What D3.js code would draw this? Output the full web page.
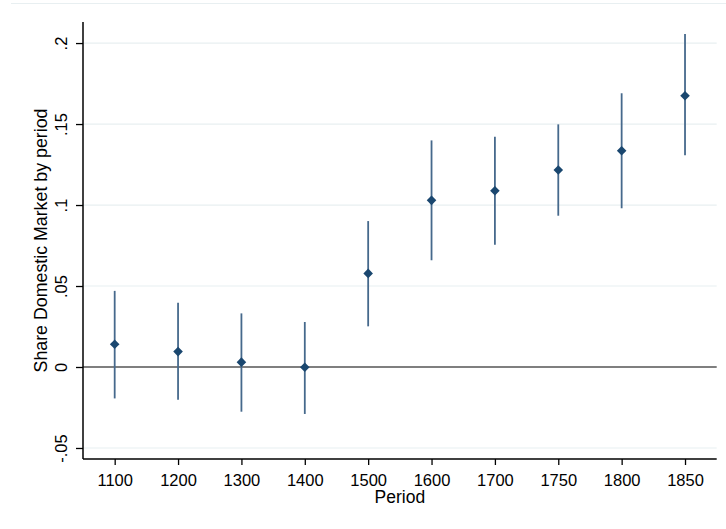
<!DOCTYPE html>
<html>
<head>
<meta charset="utf-8">
<script src="https://cdn.jsdelivr.net/npm/d3@7"></script>
<style>
  body { margin: 0; background: #fff; }
  svg { display: block; font-family: "Liberation Sans", Arial, sans-serif; }
</style>
</head>
<body>
<div id="chart"></div>
<script>
// coefficient by period, with 95% CI
var periods = ["1100","1200","1300","1400","1500","1600","1700","1750","1800","1850"];
var coef    = [0.014, 0.0095, 0.003, -0.0002, 0.0578, 0.1029, 0.1088, 0.1216, 0.1335, 0.1675];
var ciLow   = [-0.0194, -0.0202, -0.0276, -0.029, 0.0251, 0.0659, 0.0755, 0.0934, 0.098, 0.1307];
var ciHigh  = [0.047, 0.0397, 0.0331, 0.0278, 0.0901, 0.1399, 0.1422, 0.1498, 0.169, 0.2056];
var yTicks  = [-0.05, 0, 0.05, 0.1, 0.15, 0.2];
var yTickLabels = ["-.05", "0", ".05", ".1", ".15", ".2"];

var width = 726, height = 529;
var plotL = 83, plotR = 716.7, plotT = 22, plotB = 459;

var svg = d3.select("#chart").append("svg")
    .attr("width", width)
    .attr("height", height);

var x = d3.scalePoint().domain(periods).range([plotL, plotR]).padding(0.5);
var y = d3.scaleLinear().domain([-0.0568, 0.213]).range([plotB, plotT]);

// faint frame line at top (graph region border, cropped)
svg.append("line")
    .attr("x1", 11).attr("x2", width)
    .attr("y1", 3.5).attr("y2", 3.5)
    .attr("stroke", "#e8eff1").attr("stroke-width", 1.2);

// gridlines
svg.append("g").selectAll("line")
    .data(yTicks.filter(function(d){ return d !== 0; }))
    .enter().append("line")
    .attr("x1", plotL).attr("x2", plotR)
    .attr("y1", function(d){ return y(d); })
    .attr("y2", function(d){ return y(d); })
    .attr("stroke", "#e8eff1").attr("stroke-width", 1.2);

// zero reference line
svg.append("line")
    .attr("x1", plotL).attr("x2", plotR)
    .attr("y1", y(0)).attr("y2", y(0))
    .attr("stroke", "#555").attr("stroke-width", 1.6);

// y axis
var yAxis = svg.append("g")
    .attr("transform", "translate(" + plotL + ",0)")
    .call(d3.axisLeft(y).tickValues(yTicks).tickSize(7).tickFormat(function(d, i){ return yTickLabels[i]; }));
yAxis.select(".domain").attr("stroke", "#000").attr("stroke-width", 1.5).attr("d", "M0," + plotT + "V" + plotB);
yAxis.selectAll(".tick line").attr("stroke", "#000").attr("stroke-width", 1.3);
yAxis.selectAll(".tick text")
    .attr("x", null).attr("dy", null)
    .attr("text-anchor", "middle")
    .attr("transform", "translate(-16,0) rotate(-90)")
    .attr("font-size", 16.5)
    .attr("fill", "#000");

// x axis
var xAxis = svg.append("g")
    .attr("transform", "translate(0," + plotB + ")")
    .call(d3.axisBottom(x).tickSize(6));
xAxis.select(".domain").attr("stroke", "#000").attr("stroke-width", 1.5).attr("d", "M" + plotL + ",0H" + plotR);
xAxis.selectAll(".tick line").attr("stroke", "#000").attr("stroke-width", 1.3);
xAxis.selectAll(".tick text")
    .attr("y", 27).attr("dy", null)
    .attr("font-size", 16.5)
    .attr("fill", "#000");

// axis titles
svg.append("text")
    .attr("transform", "translate(47," + ((plotT + plotB) / 2) + ") rotate(-90)")
    .attr("text-anchor", "middle")
    .attr("font-size", 17.8)
    .text("Share Domestic Market by period");

svg.append("text")
    .attr("x", (plotL + plotR) / 2)
    .attr("y", 503)
    .attr("text-anchor", "middle")
    .attr("font-size", 17.5)
    .text("Period");

// confidence intervals
svg.append("g").selectAll("line")
    .data(periods)
    .enter().append("line")
    .attr("x1", function(d){ return x(d); })
    .attr("x2", function(d){ return x(d); })
    .attr("y1", function(d, i){ return y(ciLow[i]); })
    .attr("y2", function(d, i){ return y(ciHigh[i]); })
    .attr("stroke", "#46698c").attr("stroke-width", 1.8);

// point estimates
var diamond = d3.symbol().type(d3.symbolSquare).size(46);
svg.append("g").selectAll("path")
    .data(periods)
    .enter().append("path")
    .attr("d", diamond)
    .attr("transform", function(d, i){ return "translate(" + x(d) + "," + y(coef[i]) + ") rotate(45)"; })
    .attr("fill", "#1a476f");
</script>
</body>
</html>
